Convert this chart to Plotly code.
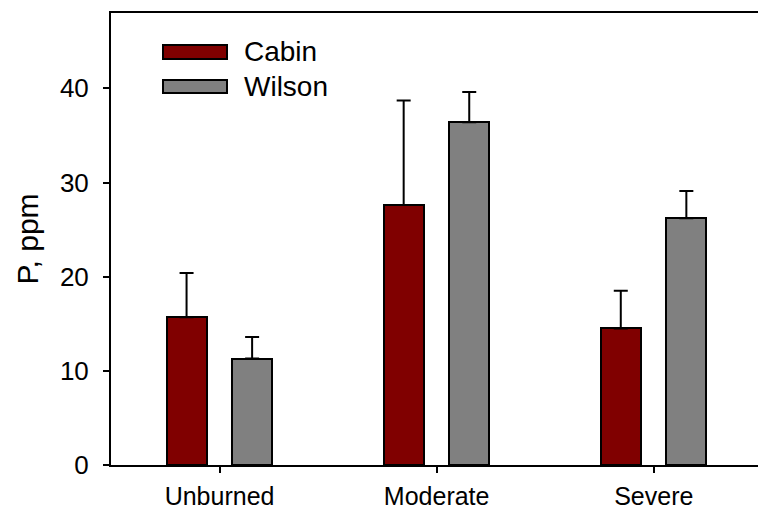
import plotly.graph_objects as go

categories = ["Unburned", "Moderate", "Severe"]
series_names = ["Cabin", "Wilson"]
cabin_vals = [15.7, 27.6, 14.5]
cabin_err = [4.7, 11.1, 4.0]
wilson_vals = [11.3, 36.4, 26.2]
wilson_err = [2.3, 3.2, 2.9]
colors = ["#800000", "#808080"]
y_ticks = [0, 10, 20, 30, 40]

FONT = "Liberation Sans, Arial, sans-serif"
W, H = 758, 513
ML, MT, MB, MR = 111, 13, 48, 0

fig = go.Figure()
bar_w = 0.184
offsets = [-0.244, 0.058]
for name, vals, errs, col, off in zip(series_names, [cabin_vals, wilson_vals],
                                     [cabin_err, wilson_err], colors, offsets):
    fig.add_trace(go.Bar(
        x=categories, y=vals, name=name,
        width=bar_w, offset=off,
        marker=dict(color=col, line=dict(color="black", width=2)),
        error_y=dict(type="data", symmetric=False, array=errs,
                     arrayminus=[0] * len(errs), color="black",
                     thickness=2, width=7),
        showlegend=False,
    ))

fig.update_layout(
    width=W, height=H,
    margin=dict(l=ML, r=MR, t=MT, b=MB, pad=0),
    plot_bgcolor="white", paper_bgcolor="white",
    font=dict(family=FONT, color="black", size=26),
    bargap=0,
)
fig.update_xaxes(
    type="category", range=[-0.5, 2.48], automargin=False,
    showline=True, linecolor="black", linewidth=2, mirror=True,
    ticks="outside", ticklen=6, tickwidth=2, tickcolor="black",
    tickfont=dict(size=25), showgrid=False, zeroline=False,
    ticklabelstandoff=2,
)
fig.update_yaxes(
    range=[0, 48], tickvals=y_ticks, automargin=False,
    showline=True, linecolor="black", linewidth=2, mirror=False,
    ticks="outside", ticklen=6, tickwidth=2, tickcolor="black",
    tickfont=dict(size=26), showgrid=False, zeroline=False,
    ticklabelstandoff=9,
    title=dict(text="P, ppm", font=dict(size=30), standoff=12),
)

# legend drawn in paper coordinates
pw = W - ML - MR
ph = H - MT - MB
def px(x):
    return (x - ML) / pw
def py(y):
    return (H - MB - y) / ph

legend_rows = [(45, 59), (80, 93)]
for name, col, (y0, y1) in zip(series_names, colors, legend_rows):
    fig.add_shape(type="rect", xref="paper", yref="paper",
                  x0=px(163), x1=px(227), y0=py(y1), y1=py(y0),
                  fillcolor=col, line=dict(color="black", width=2))
    fig.add_annotation(xref="paper", yref="paper", x=px(242), y=py((y0 + y1) / 2),
                       text=name, showarrow=False, xanchor="left", yanchor="middle",
                       font=dict(size=28, family=FONT, color="black"))

fig.write_html("out.html")
